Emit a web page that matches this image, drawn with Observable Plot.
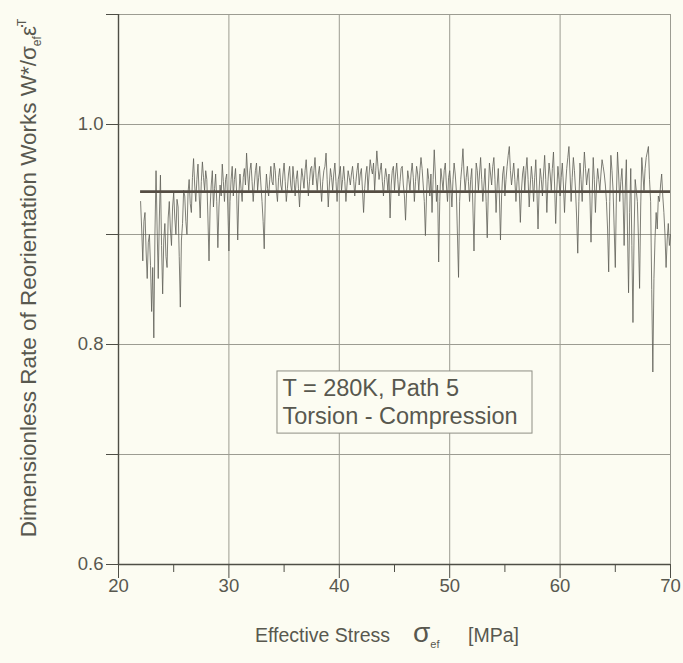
<!DOCTYPE html>
<html><head><meta charset="utf-8">
<script src="https://cdn.jsdelivr.net/npm/d3@7"></script>
<script src="https://cdn.jsdelivr.net/npm/@observablehq/plot@0.6"></script>
<style>
html,body{margin:0;padding:0;background:#fcfcf2;}
#chart{width:683px;height:663px;}
</style></head><body><div id="chart"></div>
<script>
// Effective stress [MPa]
const stress = [
22.0,22.1,22.2,22.3,22.4,22.5,22.6,22.7,22.8,22.9,
23.0,23.1,23.2,23.3,23.4,23.5,23.6,23.7,23.8,23.9,
24.0,24.1,24.2,24.3,24.4,24.5,24.6,24.7,24.8,24.9,
25.0,25.1,25.2,25.3,25.4,25.5,25.6,25.7,25.8,25.9,
26.0,26.1,26.2,26.3,26.4,26.5,26.6,26.7,26.8,26.9,
27.0,27.1,27.2,27.3,27.4,27.5,27.6,27.7,27.8,27.9,
28.0,28.1,28.2,28.3,28.4,28.5,28.6,28.7,28.8,28.9,
29.0,29.1,29.2,29.3,29.4,29.5,29.6,29.7,29.8,29.9,
30.0,30.1,30.2,30.3,30.4,30.5,30.6,30.7,30.8,30.9,
31.0,31.1,31.2,31.3,31.4,31.5,31.6,31.7,31.8,31.9,
32.0,32.1,32.2,32.3,32.4,32.5,32.6,32.7,32.8,32.9,
33.0,33.1,33.2,33.3,33.4,33.5,33.6,33.7,33.8,33.9,
34.0,34.1,34.2,34.3,34.4,34.5,34.6,34.7,34.8,34.9,
35.0,35.1,35.2,35.3,35.4,35.5,35.6,35.7,35.8,35.9,
36.0,36.1,36.2,36.3,36.4,36.5,36.6,36.7,36.8,36.9,
37.0,37.1,37.2,37.3,37.4,37.5,37.6,37.7,37.8,37.9,
38.0,38.1,38.2,38.3,38.4,38.5,38.6,38.7,38.8,38.9,
39.0,39.1,39.2,39.3,39.4,39.5,39.6,39.7,39.8,39.9,
40.0,40.1,40.2,40.3,40.4,40.5,40.6,40.7,40.8,40.9,
41.0,41.1,41.2,41.3,41.4,41.5,41.6,41.7,41.8,41.9,
42.0,42.1,42.2,42.3,42.4,42.5,42.6,42.7,42.8,42.9,
43.0,43.1,43.2,43.3,43.4,43.5,43.6,43.7,43.8,43.9,
44.0,44.1,44.2,44.3,44.4,44.5,44.6,44.7,44.8,44.9,
45.0,45.1,45.2,45.3,45.4,45.5,45.6,45.7,45.8,45.9,
46.0,46.1,46.2,46.3,46.4,46.5,46.6,46.7,46.8,46.9,
47.0,47.1,47.2,47.3,47.4,47.5,47.6,47.7,47.8,47.9,
48.0,48.1,48.2,48.3,48.4,48.5,48.6,48.7,48.8,48.9,
49.0,49.1,49.2,49.3,49.4,49.5,49.6,49.7,49.8,49.9,
50.0,50.1,50.2,50.3,50.4,50.5,50.6,50.7,50.8,50.9,
51.0,51.1,51.2,51.3,51.4,51.5,51.6,51.7,51.8,51.9,
52.0,52.1,52.2,52.3,52.4,52.5,52.6,52.7,52.8,52.9,
53.0,53.1,53.2,53.3,53.4,53.5,53.6,53.7,53.8,53.9,
54.0,54.1,54.2,54.3,54.4,54.5,54.6,54.7,54.8,54.9,
55.0,55.1,55.2,55.3,55.4,55.5,55.6,55.7,55.8,55.9,
56.0,56.1,56.2,56.3,56.4,56.5,56.6,56.7,56.8,56.9,
57.0,57.1,57.2,57.3,57.4,57.5,57.6,57.7,57.8,57.9,
58.0,58.1,58.2,58.3,58.4,58.5,58.6,58.7,58.8,58.9,
59.0,59.1,59.2,59.3,59.4,59.5,59.6,59.7,59.8,59.9,
60.0,60.1,60.2,60.3,60.4,60.5,60.6,60.7,60.8,60.9,
61.0,61.1,61.2,61.3,61.4,61.5,61.6,61.7,61.8,61.9,
62.0,62.1,62.2,62.3,62.4,62.5,62.6,62.7,62.8,62.9,
63.0,63.1,63.2,63.3,63.4,63.5,63.6,63.7,63.8,63.9,
64.0,64.1,64.2,64.3,64.4,64.5,64.6,64.7,64.8,64.9,
65.0,65.1,65.2,65.3,65.4,65.5,65.6,65.7,65.8,65.9,
66.0,66.1,66.2,66.3,66.4,66.5,66.6,66.7,66.8,66.9,
67.0,67.1,67.2,67.3,67.4,67.5,67.6,67.7,67.8,67.9,
68.0,68.1,68.2,68.3,68.4,68.5,68.6,68.7,68.8,68.9,
69.0,69.1,69.2,69.3,69.4,69.5,69.6,69.7,69.8,69.9,
70.0
];
// Dimensionless rate of reorientation works
const rate = [
0.930,0.905,0.876,0.912,0.920,0.885,0.860,0.893,0.900,0.872,
0.830,0.870,0.806,0.900,0.958,0.905,0.860,0.915,0.954,0.890,
0.846,0.895,0.910,0.880,0.870,0.915,0.930,0.905,0.890,0.925,
0.938,0.915,0.900,0.932,0.925,0.880,0.834,0.895,0.910,0.940,
0.935,0.912,0.900,0.938,0.950,0.928,0.920,0.952,0.969,0.945,
0.930,0.950,0.964,0.938,0.915,0.948,0.966,0.952,0.940,0.958,
0.950,0.915,0.876,0.925,0.945,0.958,0.925,0.942,0.955,0.930,
0.888,0.925,0.945,0.935,0.964,0.948,0.930,0.950,0.955,0.925,
0.885,0.930,0.950,0.962,0.935,0.950,0.960,0.938,0.895,0.935,
0.955,0.942,0.930,0.952,0.960,0.945,0.974,0.955,0.940,0.958,
0.965,0.948,0.930,0.945,0.958,0.965,0.940,0.952,0.962,0.945,
0.930,0.912,0.887,0.935,0.955,0.942,0.935,0.950,0.962,0.948,
0.945,0.965,0.958,0.940,0.930,0.952,0.960,0.945,0.940,0.955,
0.965,0.948,0.930,0.942,0.955,0.962,0.945,0.938,0.962,0.950,
0.935,0.950,0.958,0.942,0.925,0.945,0.960,0.952,0.942,0.958,
0.968,0.950,0.935,0.948,0.960,0.962,0.945,0.958,0.970,0.952,
0.940,0.955,0.962,0.945,0.930,0.948,0.958,0.962,0.974,0.950,
0.925,0.945,0.960,0.952,0.940,0.955,0.965,0.948,0.930,0.950,
0.955,0.962,0.940,0.950,0.962,0.948,0.930,0.945,0.958,0.952,
0.945,0.955,0.962,0.950,0.935,0.948,0.958,0.965,0.945,0.955,
0.960,0.940,0.920,0.942,0.955,0.962,0.940,0.955,0.968,0.960,
0.955,0.965,0.940,0.958,0.976,0.962,0.950,0.958,0.965,0.948,
0.935,0.950,0.960,0.952,0.940,0.955,0.915,0.945,0.958,0.962,
0.940,0.955,0.965,0.950,0.935,0.948,0.960,0.962,0.945,0.935,
0.913,0.940,0.958,0.950,0.940,0.955,0.965,0.952,0.930,0.948,
0.962,0.955,0.940,0.958,0.970,0.960,0.945,0.930,0.899,0.935,
0.960,0.950,0.935,0.955,0.920,0.950,0.977,0.955,0.930,0.945,
0.875,0.930,0.960,0.950,0.940,0.958,0.965,0.945,0.930,0.952,
0.958,0.945,0.925,0.950,0.965,0.955,0.940,0.900,0.861,0.930,
0.950,0.962,0.978,0.955,0.940,0.952,0.962,0.948,0.930,0.950,
0.960,0.925,0.885,0.935,0.965,0.958,0.940,0.955,0.970,0.950,
0.930,0.945,0.960,0.930,0.897,0.940,0.965,0.955,0.945,0.962,
0.970,0.950,0.920,0.945,0.960,0.935,0.895,0.935,0.955,0.962,
0.935,0.950,0.962,0.972,0.980,0.958,0.945,0.955,0.965,0.950,
0.930,0.948,0.960,0.940,0.911,0.940,0.955,0.962,0.940,0.958,
0.970,0.950,0.925,0.945,0.962,0.950,0.930,0.952,0.968,0.940,
0.905,0.940,0.960,0.950,0.935,0.955,0.972,0.950,0.920,0.948,
0.965,0.955,0.940,0.960,0.975,0.945,0.910,0.940,0.962,0.950,
0.935,0.952,0.965,0.945,0.920,0.945,0.960,0.970,0.980,0.955,
0.930,0.952,0.970,0.958,0.940,0.915,0.883,0.930,0.965,0.950,
0.930,0.955,0.975,0.960,0.945,0.955,0.960,0.935,0.893,0.935,
0.970,0.950,0.920,0.945,0.960,0.950,0.940,0.955,0.968,0.962,
0.955,0.945,0.930,0.905,0.866,0.930,0.972,0.958,0.940,0.905,
0.870,0.935,0.975,0.955,0.930,0.948,0.960,0.935,0.890,0.940,
0.968,0.905,0.847,0.920,0.960,0.890,0.820,0.900,0.950,0.940,
0.930,0.895,0.851,0.925,0.970,0.955,0.940,0.960,0.970,0.975,
0.980,0.950,0.930,0.850,0.775,0.860,0.897,0.920,0.905,0.935,
0.930,0.945,0.955,0.935,0.920,0.900,0.870,0.895,0.910,0.890,
0.900
];
// Mean level line
const meanRate = 0.939;
const meanStress = [22.0, 70.0];

const xTicks = [20, 30, 40, 50, 60, 70];
const xMinorTicks = [25, 35, 45, 55, 65];
const yTicks = [0.6, 0.7, 0.8, 0.9, 1.0, 1.1];
const yTickLabels = ["0.6", "", "0.8", "", "1.0", ""];
const noteLines = ["T = 280K, Path 5", "Torsion - Compression"];

const data = stress.map((s, i) => ({s, r: rate[i]}));
const BG = "#fcfcf2";
const INK = "#58584f";
const FONT = "'Liberation Sans', Arial, sans-serif";

// annotation box (data coordinates)
const box = {x1: 34.4, x2: 57.5, y1: 0.719, y2: 0.7755};
const noteX = 34.85, noteY = [0.760, 0.7345];

const chart = Plot.plot({
  width: 683, height: 663,
  marginLeft: 118, marginRight: 13, marginTop: 14, marginBottom: 99,
  x: {domain: [20, 70]},
  y: {domain: [0.6, 1.1]},
  style: {background: BG, fontFamily: FONT, fontSize: "18.5px", color: INK},
  marks: [
    Plot.ruleX(xTicks, {stroke: "#9c9c92", strokeWidth: 1}),
    Plot.ruleY(yTicks, {stroke: "#9c9c92", strokeWidth: 1}),
    Plot.rect([box], {x1: "x1", x2: "x2", y1: "y1", y2: "y2", fill: BG, stroke: "#8e8e84", strokeWidth: 1}),
    Plot.text(noteLines, {x: noteX, y: (d, i) => noteY[i], text: d => d, textAnchor: "start", fill: INK, fontSize: 23.5}),
    Plot.line(data, {x: "s", y: "r", stroke: "#5e5e57", strokeWidth: 0.8}),
    Plot.ruleY([meanRate], {x1: meanStress[0], x2: meanStress[1], stroke: "#554d43", strokeWidth: 2.8}),
    Plot.ruleX([20], {stroke: "#4e4e46", strokeWidth: 1.4}),
    Plot.ruleY([0.6], {stroke: "#4e4e46", strokeWidth: 1.4}),
    Plot.axisX(xTicks, {tickSize: 14, tickPadding: 0, label: null, stroke: "#4e4e46", fill: INK, fontSize: 18.5}),
    Plot.axisX(xMinorTicks, {tickSize: 8, tickFormat: () => "", label: null, stroke: "#4e4e46"}),
    Plot.axisY(yTicks, {tickSize: 12, tickPadding: 3, label: null, stroke: "#4e4e46", fill: INK, fontSize: 18.5,
      tickFormat: d => yTickLabels[yTicks.findIndex(t => Math.abs(t - d) < 1e-9)]})
  ]
});
document.getElementById("chart").appendChild(chart);

// Axis titles with sub/superscripts as real text
const svg = d3.select(chart);
const yl = svg.append("text")
  .attr("transform", "translate(36,278) rotate(-90)")
  .attr("text-anchor", "middle")
  .attr("fill", INK).attr("font-family", FONT).attr("font-size", 22.5);
yl.append("tspan").text("Dimensionless Rate of Reorientation Works W*/σ");
yl.append("tspan").attr("font-size", 12).attr("dy", 5).text("ef");
yl.append("tspan").attr("dy", -5).text("ε\u0307");
yl.append("tspan").attr("font-size", 12).attr("dy", -10).text("T");

const xl = svg.append("text")
  .attr("y", 642)
  .attr("text-anchor", "start")
  .attr("fill", INK).attr("font-family", FONT).attr("font-size", 19.5);
xl.append("tspan").attr("x", 255).text("Effective Stress");
xl.append("tspan").attr("x", 413).attr("font-size", 28).text("σ");
xl.append("tspan").attr("font-size", 11).attr("dy", 6).text("ef");
xl.append("tspan").attr("x", 468).attr("dy", -6).text("[MPa]");
</script>
</body></html>
